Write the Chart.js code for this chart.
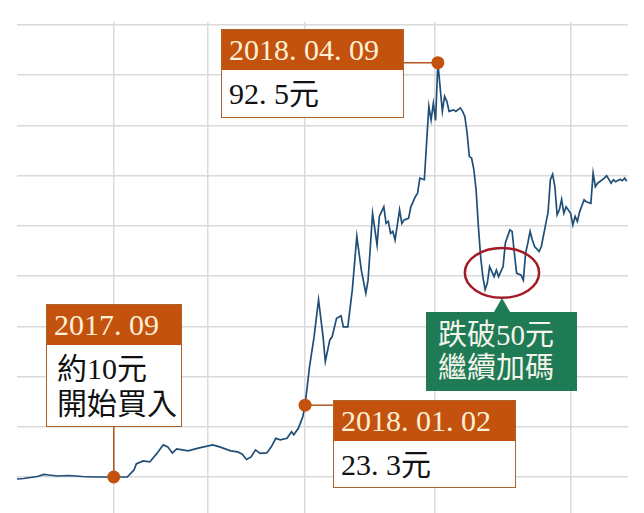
<!DOCTYPE html>
<html lang="zh-Hant">
<head>
<meta charset="utf-8">
<script src="https://cdn.jsdelivr.net/npm/chart.js@4/dist/chart.umd.min.js"></script>
<style>
  html, body { margin: 0; padding: 0; background: #fff; }
  #wrap { position: relative; width: 644px; height: 513px; overflow: hidden; }
  canvas { display: block; }
  .box {
    position: absolute; box-sizing: border-box;
    border: 1.5px solid #ad622b; background: #fff;
    font-family: "Liberation Serif", "Noto Sans CJK TC", serif; color: #111;
  }
  .box .head {
    background: #c4520f; color: #fdf0d6;
    font-size: 30px; height: 40px; line-height: 40px; padding-left: 7px;
  }
  .box .body { font-size: 30px; padding-left: 7px; }
  .dot { display: inline-block; width: 0.5em; }
  .callout {
    position: absolute; box-sizing: border-box; background: #1f7a56; color: #f4f4ea;
    font-family: "Liberation Serif", "Noto Sans CJK TC", serif;
    font-size: 29px; line-height: 33px; padding: 7px 0 0 12px;
  }
  .callout:before {
    content: ""; position: absolute; left: 68px; top: -14px;
    border-left: 8px solid transparent; border-right: 8px solid transparent;
    border-bottom: 14px solid #1f7a56;
  }
</style>
</head>
<body>
<div id="wrap">
  <canvas id="priceChart" width="644" height="513"></canvas>

  <div class="box" id="boxPeak" style="left:221px; top:29px; width:183px; height:89px;">
    <div class="head">2018<span class="dot">.</span>04<span class="dot">.</span>09</div>
    <div class="body" style="line-height:47px;">92<span class="dot">.</span>5元</div>
  </div>

  <div class="box" id="boxStart" style="left:46px; top:304px; width:136px; height:123px;">
    <div class="head">2017<span class="dot">.</span>09</div>
    <div class="body" style="line-height:35px; padding-top:6px; padding-left:10px;">約10元<br>開始買入</div>
  </div>

  <div class="box" id="boxJan" style="left:333px; top:400px; width:183px; height:88px;">
    <div class="head">2018<span class="dot">.</span>01<span class="dot">.</span>02</div>
    <div class="body" style="line-height:47px;">23<span class="dot">.</span>3元</div>
  </div>

  <div class="callout" style="left:426px; top:312px; width:151px; height:79px;">跌破50元<br>繼續加碼</div>
</div>

<script>
// trading day index since the start of the chart
const days = [
  0, 3, 9, 12, 14, 18, 23, 29, 35, 43, 49, 52, 53, 56, 59, 62, 65, 67, 69, 71,
  76, 81, 87, 90, 95, 98, 100, 102, 104, 106, 108, 111, 113, 115, 117, 120, 122, 123, 125, 127,
  128, 130, 132, 134, 136, 137, 139, 140, 142, 144, 145, 147, 149, 151, 153, 155, 156, 158, 160, 161,
  163, 164, 165, 166, 167, 168, 170, 171, 172, 174, 175, 177, 178, 179, 181, 182, 183, 184, 185, 186,
  187, 188, 189, 190, 191, 192, 194, 195, 197, 198, 199, 200, 201, 202, 203, 204, 205, 206, 207, 208,
  209, 210, 212, 213, 214, 216, 217, 219, 220, 221, 222, 224, 225, 226, 227, 228, 229, 230, 232, 233,
  235, 236, 237, 238, 239, 240, 241, 242, 243, 244, 246, 247, 248, 249, 250, 252, 253, 255, 256, 257,
  258, 261, 262, 264, 265, 266, 268, 269, 270, 271
];

// closing price (元)
const prices = [
  9.6, 9.7, 10.1, 10.5, 10.4, 10.2, 10.3, 10.1, 10.0, 10.0, 10.0, 11.4, 12.6, 13.2, 13.0, 14.6, 16.4, 16.0, 14.8, 15.6,
  15.2, 15.8, 16.4, 16.0, 15.2, 15.0, 14.6, 13.5, 14.0, 15.4, 14.7, 14.8, 16.0, 17.7, 17.4, 17.7, 19.0, 18.4, 19.7, 22.0,
  24.3, 32.0, 37.9, 45.3, 37.9, 33.0, 37.3, 37.9, 41.6, 42.1, 39.9, 39.9, 47.3, 57.9, 51.2, 46.6, 49.2, 62.5, 56.2, 61.9,
  63.8, 60.5, 60.9, 58.5, 58.9, 57.2, 63.2, 60.5, 61.2, 61.5, 63.8, 65.8, 66.5, 69.5, 69.2, 76.5, 83.8, 81.1, 84.4, 81.0,
  92.5, 87.7, 82.8, 85.8, 84.8, 82.8, 83.1, 82.8, 83.5, 82.8, 81.8, 78.5, 73.8, 73.5, 71.2, 67.2, 60.0, 53.9, 49.9, 47.3,
  48.6, 51.9, 49.9, 51.2, 49.9, 51.9, 56.6, 59.2, 58.9, 54.6, 50.6, 50.2, 49.2, 54.6, 56.6, 58.9, 57.2, 55.9, 54.9, 55.9,
  60.5, 62.8, 69.2, 70.3, 67.8, 62.2, 63.2, 65.3, 62.5, 63.8, 62.5, 60.2, 61.9, 60.9, 62.8, 65.2, 64.8, 64.5, 70.5, 67.8,
  68.5, 69.5, 70.0, 68.5, 69.2, 68.8, 69.3, 69.0, 69.5, 68.9
];

const gridDays = [43.1, 84.9, 128, 185.8, 246.2];
const priceTicks = [10, 20, 30, 40, 50, 60, 70, 80, 90, 100];
const markedDays = [43, 128, 187];    // 2017.09, 2018.01.02, 2018.04.09
const dipDays = [199, 232];           // circled zone under 50
const dipPrices = [45.7, 55.6];

const markColor = '#c4520f';
const gridColor = '#dadada';

// connectors from the marked points to their boxes
const connectors = {
  43: { dir: 'up', edge: 427 },
  128: { dir: 'right', edge: 333 },
  187: { dir: 'left', edge: 404 }
};

const annotPlugin = {
  id: 'annot',
  beforeDatasetsDraw(chart) {
    const { ctx, scales: { x, y } } = chart;
    ctx.save();
    ctx.strokeStyle = '#b0561e';
    ctx.lineWidth = 1.5;
    markedDays.forEach(d => {
      const i = days.indexOf(d);
      const px = x.getPixelForValue(d);
      const py = y.getPixelForValue(prices[i]);
      const c = connectors[d];
      ctx.beginPath();
      ctx.moveTo(px, py);
      if (c.dir === 'up') ctx.lineTo(px, c.edge);
      else ctx.lineTo(c.edge, py);
      ctx.stroke();
    });
    ctx.restore();
  },
  afterDatasetsDraw(chart) {
    const { ctx, scales: { x, y } } = chart;
    const x0 = x.getPixelForValue(dipDays[0]), x1 = x.getPixelForValue(dipDays[1]);
    const y0 = y.getPixelForValue(dipPrices[1]), y1 = y.getPixelForValue(dipPrices[0]);
    ctx.save();
    ctx.strokeStyle = '#a31a27';
    ctx.lineWidth = 2.5;
    ctx.beginPath();
    ctx.ellipse((x0 + x1) / 2, (y0 + y1) / 2, (x1 - x0) / 2, (y1 - y0) / 2, 0, 0, Math.PI * 2);
    ctx.stroke();
    ctx.restore();
  }
};

new Chart(document.getElementById('priceChart'), {
  type: 'line',
  data: {
    datasets: [{
      data: days.map((d, i) => ({ x: d, y: prices[i] })),
      borderColor: '#1f4e79',
      borderWidth: 1.7,
      tension: 0,
      pointRadius: ctx => markedDays.includes(days[ctx.dataIndex]) ? 6.5 : 0,
      pointBackgroundColor: markColor,
      pointBorderColor: markColor,
      pointBorderWidth: 0
    }]
  },
  options: {
    responsive: false,
    animation: false,
    layout: { padding: { left: 17, right: 16, top: 22, bottom: 0 } },
    plugins: { legend: { display: false }, tooltip: { enabled: false } },
    scales: {
      x: {
        type: 'linear', min: 0, max: 271.5,
        afterBuildTicks: axis => { axis.ticks = gridDays.map(v => ({ value: v })); },
        ticks: { display: false },
        grid: { color: gridColor, lineWidth: 1.5, drawTicks: false },
        border: { display: false }
      },
      y: {
        min: 2.83, max: 100.6,
        afterBuildTicks: axis => { axis.ticks = priceTicks.map(v => ({ value: v })); },
        ticks: { display: false },
        grid: { color: gridColor, lineWidth: 1.5, drawTicks: false },
        border: { display: false }
      }
    }
  },
  plugins: [annotPlugin]
});
</script>
</body>
</html>
